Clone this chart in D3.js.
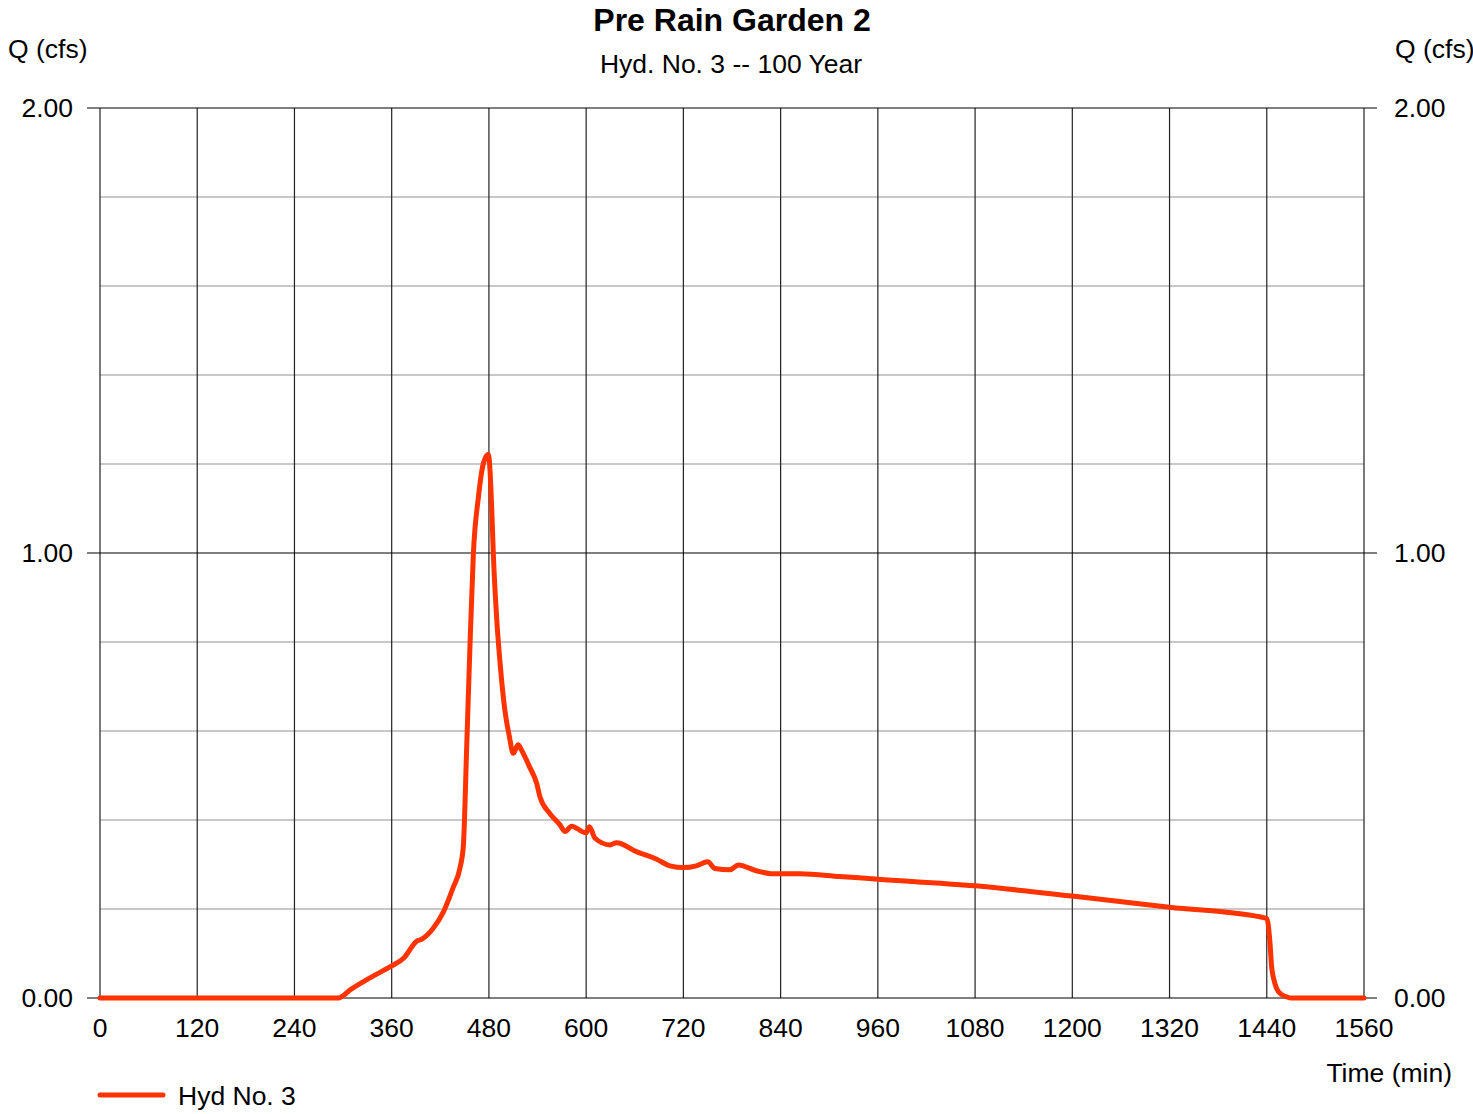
<!DOCTYPE html>
<html>
<head>
<meta charset="utf-8">
<script src="https://cdn.jsdelivr.net/npm/d3@7"></script>
<style>
  body { margin: 0; background: #fff; }
  text { font-family: "Liberation Sans", Arial, sans-serif; fill: #000; }
</style>
</head>
<body>
<svg id="chart" width="1473" height="1114"></svg>
<script>
// hydrograph data (time in min, flow in cfs)
const times = [0, 294, 310, 330, 350, 360, 375, 391, 397, 411, 424, 436, 444, 448.4, 452.5, 456.7, 460.8, 467, 473, 479.3,
  483.3, 485.4, 489.5, 493.7, 499.8, 505, 510, 516, 520, 530, 539, 543, 555, 567.7, 574, 582, 599.8, 604, 611,
  629.4, 637.6, 662, 687, 703.5, 720, 736, 750, 759, 777.5, 787.8, 810, 831, 841, 864, 913, 960, 1080, 1200,
  1320, 1440, 1444, 1446, 1449, 1452, 1458, 1464, 1470, 1560];
const flows = [0, 0, 0.02, 0.042, 0.062, 0.072, 0.09, 0.128, 0.132, 0.156, 0.194, 0.249, 0.29, 0.341, 0.56, 0.796, 0.998, 1.125, 1.20, 1.222,
  1.108, 1.0, 0.855, 0.754, 0.645, 0.59, 0.55, 0.569, 0.558, 0.52, 0.482, 0.452, 0.415, 0.389, 0.374, 0.386, 0.371, 0.385, 0.359,
  0.344, 0.349, 0.329, 0.312, 0.297, 0.293, 0.297, 0.306, 0.291, 0.288, 0.299, 0.286, 0.279, 0.279, 0.279, 0.273, 0.267, 0.252, 0.229,
  0.204, 0.179, 0.123, 0.07, 0.04, 0.022, 0.008, 0.003, 0, 0];

const xTicks = [0, 120, 240, 360, 480, 600, 720, 840, 960, 1080, 1200, 1320, 1440, 1560];
const yMajor = [0, 1, 2];
const yMinor = [0.2, 0.4, 0.6, 0.8, 1.2, 1.4, 1.6, 1.8];
const seriesName = "Hyd No. 3";

const svg = d3.select("#chart");
const plot = { left: 100, right: 1364, top: 108, bottom: 998 };
const fs = 26.5;

const x = d3.scaleLinear().domain([0, 1560]).range([plot.left, plot.right]);
const y = d3.scaleLinear().domain([0, 2]).range([plot.bottom, plot.top]);

// minor horizontal grid
svg.append("g").selectAll("line").data(yMinor).join("line")
  .attr("x1", plot.left).attr("x2", plot.right)
  .attr("y1", d => y(d)).attr("y2", d => y(d))
  .attr("stroke", "#c8c8c8").attr("stroke-width", 2);

// vertical grid
svg.append("g").selectAll("line").data(xTicks).join("line")
  .attr("x1", d => x(d)).attr("x2", d => x(d))
  .attr("y1", plot.top).attr("y2", plot.bottom)
  .attr("stroke", "#222").attr("stroke-width", 1.2);

// major horizontal lines with ticks both sides
svg.append("g").selectAll("line").data(yMajor).join("line")
  .attr("x1", plot.left - 13).attr("x2", plot.right + 13)
  .attr("y1", d => y(d)).attr("y2", d => y(d))
  .attr("stroke", "#000").attr("stroke-width", 1.2);

// y tick labels, left and right
const fmt = d3.format(".2f");
svg.append("g").selectAll("text").data(yMajor).join("text")
  .attr("x", 73).attr("y", d => y(d)).attr("dy", "0.35em")
  .attr("text-anchor", "end").attr("font-size", fs).text(fmt);
svg.append("g").selectAll("text").data(yMajor).join("text")
  .attr("x", 1394).attr("y", d => y(d)).attr("dy", "0.35em")
  .attr("text-anchor", "start").attr("font-size", fs).text(fmt);

// x tick labels
svg.append("g").selectAll("text").data(xTicks).join("text")
  .attr("x", d => x(d)).attr("y", 1028).attr("dy", "0.35em")
  .attr("text-anchor", "middle").attr("font-size", fs).text(d => d);

// hydrograph line
const line = d3.line().x((d, i) => x(times[i])).y(d => y(d)).curve(d3.curveMonotoneX);
svg.append("path").datum(flows)
  .attr("d", line)
  .attr("fill", "none").attr("stroke", "#ff3300")
  .attr("stroke-width", 5).attr("stroke-linejoin", "round").attr("stroke-linecap", "round");

// titles
svg.append("text").attr("x", 732).attr("y", 31).attr("text-anchor", "middle")
  .attr("font-size", 32).attr("font-weight", "bold").text("Pre Rain Garden 2");
svg.append("text").attr("x", 731).attr("y", 73).attr("text-anchor", "middle")
  .attr("font-size", fs).text("Hyd. No. 3 -- 100 Year");
svg.append("text").attr("x", 8).attr("y", 58).attr("font-size", fs).text("Q (cfs)");
svg.append("text").attr("x", 1395).attr("y", 58).attr("font-size", fs).text("Q (cfs)");
svg.append("text").attr("x", 1452).attr("y", 1082).attr("text-anchor", "end")
  .attr("font-size", fs).text("Time (min)");

// legend
svg.append("line").attr("x1", 100).attr("x2", 163).attr("y1", 1095).attr("y2", 1095)
  .attr("stroke", "#ff3300").attr("stroke-width", 5).attr("stroke-linecap", "round");
svg.append("text").attr("x", 178).attr("y", 1105).attr("font-size", fs).text(seriesName);
</script>
</body>
</html>
